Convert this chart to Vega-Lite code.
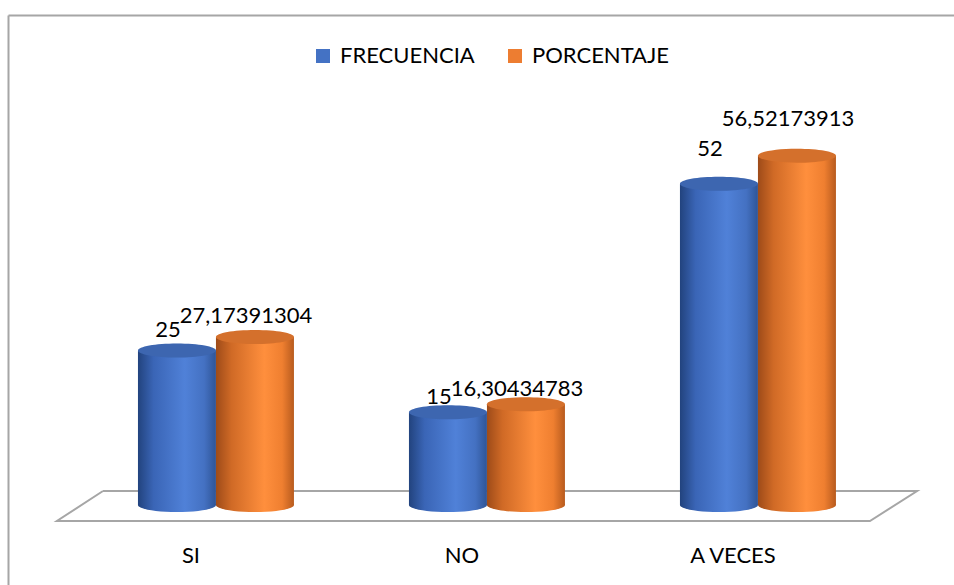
{
  "$schema": "https://vega.github.io/schema/vega-lite/v6.json",
  "autosize": "none",
  "width": 946,
  "height": 570,
  "padding": {"left": 8, "top": 15, "right": 0, "bottom": 0},
  "background": "white",
  "config": {"view": {"stroke": null}, "font": "Lato"},
  "datasets": {
    "main": [
      {"cat": "SI", "serie": "FRECUENCIA", "valor": 25, "etiqueta": "25"},
      {"cat": "SI", "serie": "PORCENTAJE", "valor": 27.17391304, "etiqueta": "27,17391304"},
      {"cat": "NO", "serie": "FRECUENCIA", "valor": 15, "etiqueta": "15"},
      {"cat": "NO", "serie": "PORCENTAJE", "valor": 16.30434783, "etiqueta": "16,30434783"},
      {"cat": "A VECES", "serie": "FRECUENCIA", "valor": 52, "etiqueta": "52"},
      {"cat": "A VECES", "serie": "PORCENTAJE", "valor": 56.52173913, "etiqueta": "56,52173913"}
    ],
    "floor": [
      {"i": 0, "fx": -0.417, "fy": 2.27},
      {"i": 1, "fx": 2.587, "fy": 2.27},
      {"i": 2, "fx": 2.413, "fy": -2.59},
      {"i": 3, "fx": -0.587, "fy": -2.59},
      {"i": 4, "fx": -0.417, "fy": 2.27}
    ]
  },
  "layer": [
    {
      "data": {"name": "floor"},
      "mark": {"type": "line", "stroke": "#a6a6a6", "strokeWidth": 2, "strokeJoin": "miter"},
      "encoding": {
        "x": {"field": "fx", "type": "quantitative", "scale": {"domain": [-0.7675, 2.7232], "nice": false, "zero": false}, "axis": null},
        "y": {"field": "fy", "type": "quantitative", "scale": {"domain": [-12.94, 79.29], "nice": false, "zero": false}, "axis": null},
        "order": {"field": "i"}
      }
    },
    {
      "data": {"name": "main"},
      "encoding": {
        "x": {"field": "cat", "type": "nominal", "sort": ["SI", "NO", "A VECES"], "scale": {"paddingInner": 0.4244, "paddingOuter": 0.4576, "align": 0.524}, "axis": {"orient": "top", "domain": true, "domainColor": "#a6a6a6", "domainWidth": 2, "labels": false, "ticks": false, "title": null, "grid": false}},
        "xOffset": {"field": "serie", "type": "nominal", "sort": ["FRECUENCIA", "PORCENTAJE"], "scale": {"paddingInner": 0, "paddingOuter": 0}},
        "y": {"field": "valor", "type": "quantitative", "scale": {"domain": [-12.94, 79.29], "nice": false, "zero": false}, "axis": {"domainColor": "#a6a6a6", "domainWidth": 2, "labels": false, "ticks": false, "grid": false, "title": null}}
      },
      "layer": [
        {
          "transform": [{"filter": "datum.serie === 'FRECUENCIA'"}],
          "mark": {"type": "point", "shape": "M-1,0 C-1,0.0994 -0.5523,0.18 0,0.18 C0.5523,0.18 1,0.0994 1,0 C1,-0.0994 0.5523,-0.18 0,-0.18 C-0.5523,-0.18 -1,-0.0994 -1,0 Z", "size": 6084, "filled": true, "opacity": 1, "strokeWidth": 0,
            "fill": {"gradient": "linear", "x1": 0, "y1": 0, "x2": 1, "y2": 0, "stops": [{"offset": 0, "color": "#22437e"}, {"offset": 0.2, "color": "#3a65b6"}, {"offset": 0.6, "color": "#5081d8"}, {"offset": 0.85, "color": "#4471c2"}, {"offset": 1, "color": "#2f5597"}]}},
          "encoding": {"y": {"datum": 0}}
        },
        {
          "transform": [{"filter": "datum.serie === 'PORCENTAJE'"}],
          "mark": {"type": "point", "shape": "M-1,0 C-1,0.0994 -0.5523,0.18 0,0.18 C0.5523,0.18 1,0.0994 1,0 C1,-0.0994 0.5523,-0.18 0,-0.18 C-0.5523,-0.18 -1,-0.0994 -1,0 Z", "size": 6084, "filled": true, "opacity": 1, "strokeWidth": 0,
            "fill": {"gradient": "linear", "x1": 0, "y1": 0, "x2": 1, "y2": 0, "stops": [{"offset": 0, "color": "#9e4b19"}, {"offset": 0.2, "color": "#d06a26"}, {"offset": 0.62, "color": "#ff8f3d"}, {"offset": 0.85, "color": "#ef7f30"}, {"offset": 1, "color": "#b85b1e"}]}},
          "encoding": {"y": {"datum": 0}}
        },
        {
          "transform": [{"filter": "datum.serie === 'FRECUENCIA'"}],
          "mark": {"type": "bar", "strokeWidth": 0,
            "fill": {"gradient": "linear", "x1": 0, "y1": 0, "x2": 1, "y2": 0, "stops": [{"offset": 0, "color": "#22437e"}, {"offset": 0.2, "color": "#3a65b6"}, {"offset": 0.6, "color": "#5081d8"}, {"offset": 0.85, "color": "#4471c2"}, {"offset": 1, "color": "#2f5597"}]}},
          "encoding": {"y2": {"datum": 0}}
        },
        {
          "transform": [{"filter": "datum.serie === 'PORCENTAJE'"}],
          "mark": {"type": "bar", "strokeWidth": 0,
            "fill": {"gradient": "linear", "x1": 0, "y1": 0, "x2": 1, "y2": 0, "stops": [{"offset": 0, "color": "#9e4b19"}, {"offset": 0.2, "color": "#d06a26"}, {"offset": 0.62, "color": "#ff8f3d"}, {"offset": 0.85, "color": "#ef7f30"}, {"offset": 1, "color": "#b85b1e"}]}},
          "encoding": {"y2": {"datum": 0}}
        },
        {
          "mark": {"type": "point", "shape": "M-1,0 C-1,0.0994 -0.5523,0.18 0,0.18 C0.5523,0.18 1,0.0994 1,0 C1,-0.0994 0.5523,-0.18 0,-0.18 C-0.5523,-0.18 -1,-0.0994 -1,0 Z", "size": 6084, "filled": true, "opacity": 1, "strokeWidth": 0},
          "encoding": {
            "color": {"field": "serie", "type": "nominal", "sort": ["FRECUENCIA", "PORCENTAJE"], "scale": {"domain": ["FRECUENCIA", "PORCENTAJE"], "range": ["#4472c4", "#ed7d31"]},
              "legend": {"orient": "none", "legendX": 304, "legendY": 30, "direction": "horizontal", "title": null, "symbolType": "square", "symbolSize": 196, "symbolStrokeWidth": 0, "symbolOpacity": 1, "labelFontSize": 22, "labelFont": "Lato", "labelColor": "#000000", "columnPadding": 29, "labelOffset": 6}}
          }
        },
        {
          "mark": {"type": "point", "shape": "M-1,0 C-1,0.0994 -0.5523,0.18 0,0.18 C0.5523,0.18 1,0.0994 1,0 C1,-0.0994 0.5523,-0.18 0,-0.18 C-0.5523,-0.18 -1,-0.0994 -1,0 Z", "size": 6084, "filled": true, "fill": "#000000", "opacity": 0.1, "strokeWidth": 0}
        },
        {
          "transform": [{"filter": "datum.serie === 'FRECUENCIA'"}],
          "mark": {"type": "text", "font": "Lato", "fontSize": 22, "color": "#000000", "baseline": "alphabetic", "dx": 14},
          "encoding": {"y": {"datum": -9.4}, "text": {"field": "cat"}}
        }
      ]
    },
    {
      "data": {"name": "main"},
      "mark": {"type": "text", "font": "Lato", "fontSize": 22, "color": "#000000", "baseline": "alphabetic", "dx": -9},
      "encoding": {
        "x": {"field": "cat", "type": "nominal", "sort": ["SI", "NO", "A VECES"], "scale": {"paddingInner": 0.4244, "paddingOuter": 0.4576, "align": 0.524}, "axis": null},
        "xOffset": {"field": "serie", "type": "nominal", "sort": ["FRECUENCIA", "PORCENTAJE"], "scale": {"paddingInner": 0, "paddingOuter": 0}},
        "y": {"field": "valor", "type": "quantitative", "scale": {"domain": [-11.93, 73.08], "nice": false, "zero": false}, "axis": null},
        "text": {"field": "etiqueta"}
      }
    }
  ],
  "resolve": {"scale": {"x": "independent", "y": "independent"}}
}
